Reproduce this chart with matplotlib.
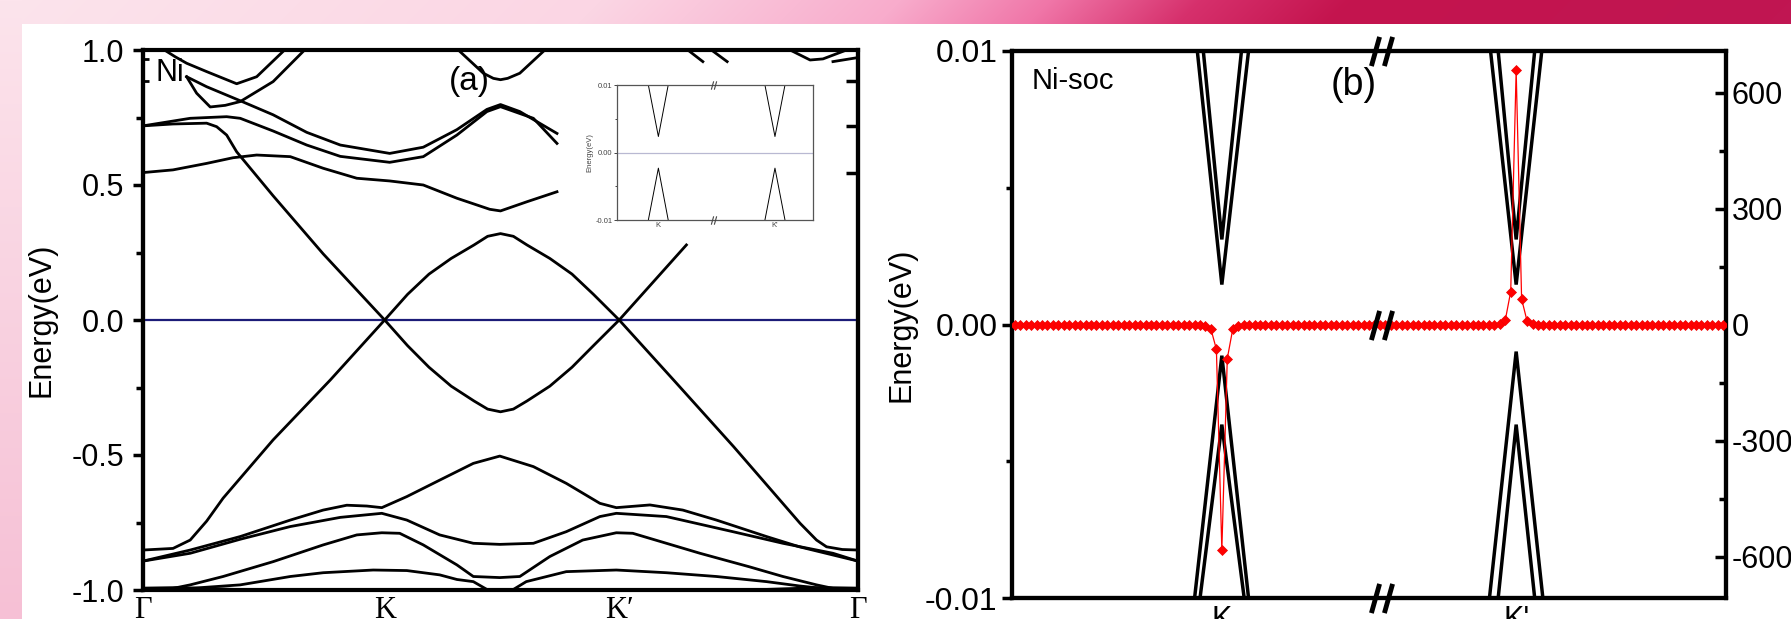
import numpy as np
import matplotlib
matplotlib.use('Agg')
import matplotlib.pyplot as plt
from matplotlib.path import Path
from matplotlib.ticker import FormatStrFormatter
from matplotlib.transforms import blended_transform_factory

plt.rcParams['font.family'] = ['Liberation Sans', 'DejaVu Sans']
plt.rcParams['axes.unicode_minus'] = False

# ======================= DATA : panel (a) =======================
HS_POS = [0.0, 0.338, 0.666, 1.0]
HS_LABELS = ['Γ', 'K', 'K′', 'Γ']
E_FERMI = 0.0

D1_K = [0.000, 0.042, 0.066, 0.089, 0.112, 0.182, 0.262, 0.338, 0.370, 0.400, 0.431, 0.463, 0.482, 0.500,
        0.518, 0.537, 0.569, 0.600, 0.630, 0.666, 0.742, 0.826, 0.919, 0.942, 0.956, 0.978, 1.000]
D1_E = [-0.852, -0.846, -0.815, -0.745, -0.660, -0.444, -0.222, 0.000, 0.095, 0.170, 0.228, 0.278, 0.310, 0.320,
        0.310, 0.278, 0.228, 0.170, 0.095, 0.000, -0.222, -0.469, -0.753, -0.815, -0.840, -0.850, -0.852]

D2_K = [0.000, 0.042, 0.089, 0.103, 0.117, 0.131, 0.182, 0.252, 0.338, 0.370, 0.400, 0.431, 0.463, 0.482,
        0.500, 0.518, 0.537, 0.569, 0.600, 0.630, 0.666, 0.760]
D2_E = [0.719, 0.726, 0.729, 0.716, 0.685, 0.623, 0.460, 0.245, 0.000, -0.095, -0.175, -0.245, -0.300, -0.330,
        -0.340, -0.330, -0.300, -0.245, -0.175, -0.095, 0.000, 0.278]

B055_K = [0.000, 0.042, 0.089, 0.126, 0.159, 0.206, 0.252, 0.299, 0.345, 0.392, 0.439, 0.485, 0.500, 0.537, 0.579]
B055_E = [0.546, 0.556, 0.580, 0.601, 0.611, 0.605, 0.562, 0.525, 0.515, 0.500, 0.451, 0.410, 0.404, 0.438, 0.475]

P2_K = [0.000, 0.066, 0.117, 0.136, 0.182, 0.229, 0.276, 0.345, 0.392, 0.439, 0.481, 0.500, 0.546, 0.579]
P2_E = [0.719, 0.747, 0.753, 0.747, 0.700, 0.648, 0.606, 0.584, 0.605, 0.685, 0.772, 0.790, 0.747, 0.654]

P1_K = [0.061, 0.089, 0.136, 0.182, 0.229, 0.276, 0.345, 0.392, 0.439, 0.481, 0.500, 0.527, 0.579]
P1_E = [0.901, 0.864, 0.812, 0.760, 0.695, 0.648, 0.617, 0.640, 0.705, 0.780, 0.798, 0.772, 0.691]

M2_K = [0.061, 0.075, 0.094, 0.115, 0.136, 0.182, 0.226]
M2_E = [0.901, 0.840, 0.789, 0.795, 0.809, 0.883, 1.000]

M1_K = [0.030, 0.045, 0.061, 0.089, 0.131, 0.159, 0.198]
M1_E = [1.000, 0.975, 0.951, 0.920, 0.875, 0.901, 1.000]

TM_K = [0.441, 0.476, 0.490, 0.500, 0.510, 0.527, 0.562]
TM_E = [1.000, 0.914, 0.895, 0.890, 0.895, 0.914, 1.000]

R1_K, R1_E = [0.762, 0.783], [1.000, 0.957]
R2_K, R2_E = [0.795, 0.817], [1.000, 0.957]
R3_K, R3_E = [0.905, 0.933, 0.951, 0.984], [1.000, 0.963, 0.967, 1.000]
R4_K, R4_E = [0.965, 0.993, 1.000], [0.957, 0.969, 0.972]

S2_K = [0.000, 0.066, 0.136, 0.206, 0.252, 0.285, 0.313, 0.334, 0.369, 0.415, 0.462, 0.499, 0.546, 0.592,
        0.639, 0.662, 0.709, 0.755, 0.802, 0.872, 0.918, 1.000]
S2_E = [-0.893, -0.852, -0.802, -0.741, -0.704, -0.686, -0.689, -0.695, -0.654, -0.593, -0.531, -0.504, -0.543,
        -0.605, -0.679, -0.695, -0.685, -0.704, -0.741, -0.802, -0.840, -0.893]

S3_K = [0.000, 0.066, 0.136, 0.206, 0.276, 0.334, 0.369, 0.415, 0.462, 0.499, 0.546, 0.592, 0.639, 0.662,
        0.732, 0.825, 0.895, 0.965, 1.000]
S3_E = [-0.893, -0.864, -0.812, -0.765, -0.731, -0.716, -0.741, -0.796, -0.827, -0.831, -0.827, -0.784, -0.728,
        -0.716, -0.728, -0.784, -0.827, -0.864, -0.893]

S5_K = [0.000, 0.042, 0.066, 0.112, 0.182, 0.252, 0.299, 0.334, 0.359, 0.392, 0.439, 0.462, 0.499, 0.527,
        0.569, 0.615, 0.662, 0.685, 0.732, 0.779, 0.848, 0.895, 0.942, 0.965, 1.000]
S5_E = [-0.998, -0.994, -0.981, -0.950, -0.895, -0.833, -0.796, -0.788, -0.790, -0.833, -0.907, -0.950, -0.954,
        -0.950, -0.876, -0.815, -0.788, -0.790, -0.827, -0.864, -0.914, -0.950, -0.981, -0.994, -0.998]

S6L_K = [0.066, 0.136, 0.206, 0.252, 0.322, 0.369, 0.415, 0.439, 0.462, 0.481]
S6L_E = [-0.994, -0.981, -0.950, -0.936, -0.926, -0.928, -0.944, -0.961, -0.969, -0.998]
S6R_K = [0.518, 0.536, 0.592, 0.662, 0.732, 0.802, 0.872, 0.918, 0.965]
S6R_E = [-0.998, -0.969, -0.932, -0.926, -0.936, -0.950, -0.969, -0.985, -0.998]

S7L_K, S7L_E = [0.000, 0.050, 0.130], [-0.993, -0.991, -0.998]
S7R_K, S7R_E = [0.870, 0.950, 1.000], [-0.998, -0.991, -0.993]

RSPINE_TICKS = [0.885, 0.717, 0.546]
LSPINE_IN_TICKS = [0.966, 0.885]

# inset of panel (a)
IN_HS_POS = [0.212, 0.805]
IN_HS_LABELS = ['K', "K'"]
IN_BREAK = 0.491
IN_CK_K, IN_CK_E = [0.161, 0.212, 0.262], [0.01, 0.00237, 0.01]
IN_VK_K, IN_VK_E = [0.161, 0.212, 0.262], [-0.01, -0.00232, -0.01]
IN_CP_K, IN_CP_E = [0.754, 0.805, 0.856], [0.01, 0.00237, 0.01]
IN_VP_K, IN_VP_E = [0.754, 0.805, 0.856], [-0.01, -0.00232, -0.01]

# ======================= DATA : panel (b) =======================
B_HS_POS = [38, 92]
B_HS_LABELS = ['K', "K'"]
B_BREAK = 67.3

BK_C1_X, BK_C1_E = [33.5, 38.0, 42.9], [0.0100, 0.00146, 0.0100]
BK_C2_X, BK_C2_E = [34.6, 38.0, 41.6], [0.0100, 0.00311, 0.0100]
BK_V1_X, BK_V1_E = [33.0, 38.0, 42.9], [-0.0100, -0.00114, -0.0100]
BK_V2_X, BK_V2_E = [34.0, 38.0, 42.1], [-0.0100, -0.00366, -0.0100]
BP_C1_X, BP_C1_E = [87.3, 92.0, 96.7], [0.0100, 0.00146, 0.0100]
BP_C2_X, BP_C2_E = [88.7, 92.0, 95.4], [0.0100, 0.00311, 0.0100]
BP_V1_X, BP_V1_E = [87.1, 92.0, 96.9], [-0.0100, -0.00099, -0.0100]
BP_V2_X, BP_V2_E = [88.7, 92.0, 95.4], [-0.0100, -0.00366, -0.0100]

# Berry curvature on the k-point grid (131 points)
OMEGA = ([0.0] * 35 + [-2, -11, -63, -582, -87, -11, -2] + [0.0] * 47 +
         [3, 12, 86, 658, 67, 10, 3] + [0.0] * 35)
K_INDEX = np.arange(len(OMEGA))

BANDS_A = [(D1_K, D1_E), (D2_K, D2_E), (B055_K, B055_E), (P1_K, P1_E), (P2_K, P2_E),
           (M1_K, M1_E), (M2_K, M2_E), (TM_K, TM_E), (R1_K, R1_E), (R2_K, R2_E),
           (R3_K, R3_E), (R4_K, R4_E), (S2_K, S2_E), (S3_K, S3_E), (S5_K, S5_E),
           (S6L_K, S6L_E), (S6R_K, S6R_E), (S7L_K, S7L_E), (S7R_K, S7R_E)]
BANDS_B = [(BK_C1_X, BK_C1_E), (BK_C2_X, BK_C2_E), (BK_V1_X, BK_V1_E), (BK_V2_X, BK_V2_E),
           (BP_C1_X, BP_C1_E), (BP_C2_X, BP_C2_E), (BP_V1_X, BP_V1_E), (BP_V2_X, BP_V2_E)]

# ======================= FIGURE =======================
W, H = 1791, 619
fig = plt.figure(figsize=(W / 100, H / 100), dpi=100)

# decorative background (pink banner + left strip)
xs = np.arange(W)
ys = np.arange(H)
XX, YY = np.meshgrid(xs, ys)
top_x = [0, 600, 900, 1050, 1200, 1350, 1791]
top_c = np.array([[252, 228, 236], [251, 214, 228], [248, 172, 204], [240, 118, 168],
                  [214, 48, 108], [196, 20, 78], [192, 22, 82]]) / 255.0
xeff = XX + YY * 1.0
bg = np.stack([np.interp(xeff, top_x, top_c[:, i]) for i in range(3)], axis=-1)
left_c0 = np.array([252, 228, 236]) / 255.0
left_c1 = np.array([246, 192, 213]) / 255.0
t = (YY / H)[..., None]
left = left_c0 * (1 - t) + left_c1 * t
bg = np.where((XX < 22)[..., None], left, bg)
white = (XX >= 22) & (YY >= 24)
bg[white] = 1.0
bgax = fig.add_axes([0, 0, 1, 1])
bgax.imshow(bg, aspect='auto', interpolation='bilinear')
bgax.set_axis_off()
bgax.set_zorder(-5)

# ---------------- panel (a) ----------------
axL = fig.add_axes([143 / W, 1 - 590 / H, 715 / W, 540 / H])
for kk, ee in BANDS_A:
    axL.plot(kk, ee, color='black', lw=2.0, solid_joinstyle='round', zorder=3)
axL.axhline(E_FERMI, color='#1c1c78', lw=1.6, zorder=2)
axL.set_xlim(0, 1)
axL.set_ylim(-1, 1)
for s in axL.spines.values():
    s.set_linewidth(3)
axL.set_yticks([-1.0, -0.5, 0.0, 0.5, 1.0])
axL.set_yticks([-0.75, -0.25, 0.25, 0.75], minor=True)
axL.yaxis.set_major_formatter(FormatStrFormatter('%.1f'))
axL.tick_params(axis='y', which='major', direction='out', length=7.5, width=2.5, pad=6, labelsize=22)
axL.tick_params(axis='y', which='minor', direction='out', length=5, width=2.5)
axL.set_xticks(HS_POS)
axL.set_xticklabels(HS_LABELS, family=['Liberation Serif', 'DejaVu Serif'], fontsize=22)
axL.tick_params(axis='x', which='both', length=0, pad=4)
axL.set_ylabel('Energy(eV)', fontsize=22, labelpad=11)
axL.text(0.017, 0.985, 'Ni', transform=axL.transAxes, fontsize=22, ha='left', va='top')
axL.text(0.457, 0.941, '(a)', transform=axL.transAxes, fontsize=24, ha='center', va='center')

secR = axL.secondary_yaxis('right')
secR.set_yticks(RSPINE_TICKS, labels=[''] * len(RSPINE_TICKS))
secR.tick_params(direction='in', length=9, width=2.5)
secR.spines['right'].set_linewidth(3)
secL = axL.secondary_yaxis('left')
secL.set_yticks(LSPINE_IN_TICKS, labels=[''] * len(LSPINE_IN_TICKS))
secL.tick_params(direction='in', length=4.5, width=2)
secL.spines['left'].set_linewidth(3)

# inset
axI = fig.add_axes([616.7 / W, 1 - 220 / H, 196.6 / W, 135 / H])
axI.set_facecolor('white')
for kk, ee in [(IN_CK_K, IN_CK_E), (IN_VK_K, IN_VK_E), (IN_CP_K, IN_CP_E), (IN_VP_K, IN_VP_E)]:
    axI.plot(kk, ee, color='black', lw=0.7)
axI.axhline(E_FERMI, color='#b9b9d2', lw=0.9)
axI.set_xlim(0, 1)
axI.set_ylim(-0.01, 0.01)
for s in axI.spines.values():
    s.set_linewidth(0.9)
    s.set_color('#555555')
axI.set_yticks([-0.01, 0.0, 0.01])
axI.set_yticks([-0.005, 0.005], minor=True)
axI.yaxis.set_major_formatter(FormatStrFormatter('%.2f'))
axI.tick_params(axis='y', which='major', length=2, width=0.7, pad=1, labelsize=5.5, colors='#444444')
axI.tick_params(axis='y', which='minor', length=1.2, width=0.7, colors='#444444')
axI.set_xticks(IN_HS_POS)
axI.set_xticklabels(IN_HS_LABELS, fontsize=5.5, color='#444444')
axI.tick_params(axis='x', length=0, pad=1.5)
axI.set_ylabel('Energy(eV)', fontsize=5.5, labelpad=1.5, color='#444444')
slash = Path([(-0.28, -1.0), (0.28, 1.0)], [Path.MOVETO, Path.LINETO])
trI = blended_transform_factory(axI.transData, axI.transAxes)
for yy in (0.0, 1.0):
    axI.plot([IN_BREAK - 0.008, IN_BREAK + 0.008], [yy, yy], transform=trI, ls='none',
             marker=slash, ms=6, mew=0.8, mec='#444444', clip_on=False, zorder=5)

# ---------------- panel (b) ----------------
axR = fig.add_axes([1012 / W, 1 - 598 / H, 714 / W, 547 / H])
for xx, ee in BANDS_B:
    axR.plot(xx, ee, color='black', lw=2.5, solid_joinstyle='miter', zorder=3)
axR.set_xlim(-0.5, 130.5)
axR.set_ylim(-0.01, 0.01)
for s in axR.spines.values():
    s.set_linewidth(3)
axR.set_yticks([-0.01, 0.0, 0.01])
axR.set_yticks([-0.005, 0.005], minor=True)
axR.yaxis.set_major_formatter(FormatStrFormatter('%.2f'))
axR.tick_params(axis='y', which='major', direction='out', length=7.5, width=2.5, pad=3, labelsize=23)
axR.tick_params(axis='y', which='minor', direction='out', length=4, width=2.5)
axR.set_xticks(B_HS_POS)
axR.set_xticklabels(B_HS_LABELS, fontsize=22)
axR.tick_params(axis='x', which='both', length=0, pad=5)
axR.set_ylabel('Energy(eV)', fontsize=22, labelpad=6)
axR.text(0.027, 0.971, 'Ni-soc', transform=axR.transAxes, fontsize=21, ha='left', va='top')
axR.text(0.478, 0.938, '(b)', transform=axR.transAxes, fontsize=27, ha='center', va='center')

ax2 = axR.twinx()
ax2.plot(K_INDEX, OMEGA, color='#ff0000', lw=0.9, marker='D', ms=4.6, mec='#f00000', mfc='#ff0000',
         mew=0.5, zorder=4)
ax2.set_ylim(-706, 708)
ax2.set_xlim(-0.5, 130.5)
for s in ax2.spines.values():
    s.set_linewidth(3)
ax2.set_yticks([-600, -300, 0, 300, 600])
ax2.set_yticks([-450, -150, 150, 450], minor=True)
ax2.tick_params(axis='y', which='major', direction='in', length=8, width=2.5, pad=4, labelsize=22)
ax2.tick_params(axis='y', which='minor', direction='in', length=5, width=2.5)

trB = blended_transform_factory(ax2.transData, ax2.transAxes)
for yy in (0.0, 1.0):
    ax2.plot([B_BREAK - 1.2, B_BREAK + 1.2], [yy, yy], transform=trB, ls='none',
             marker=slash, ms=21, mew=3.5, mec='black', clip_on=False, zorder=6)
ax2.plot([B_BREAK - 1.2, B_BREAK + 1.2], [0, 0], ls='none',
         marker=slash, ms=21, mew=3.5, mec='black', clip_on=False, zorder=6)

fig.savefig('out.png', dpi=100)
